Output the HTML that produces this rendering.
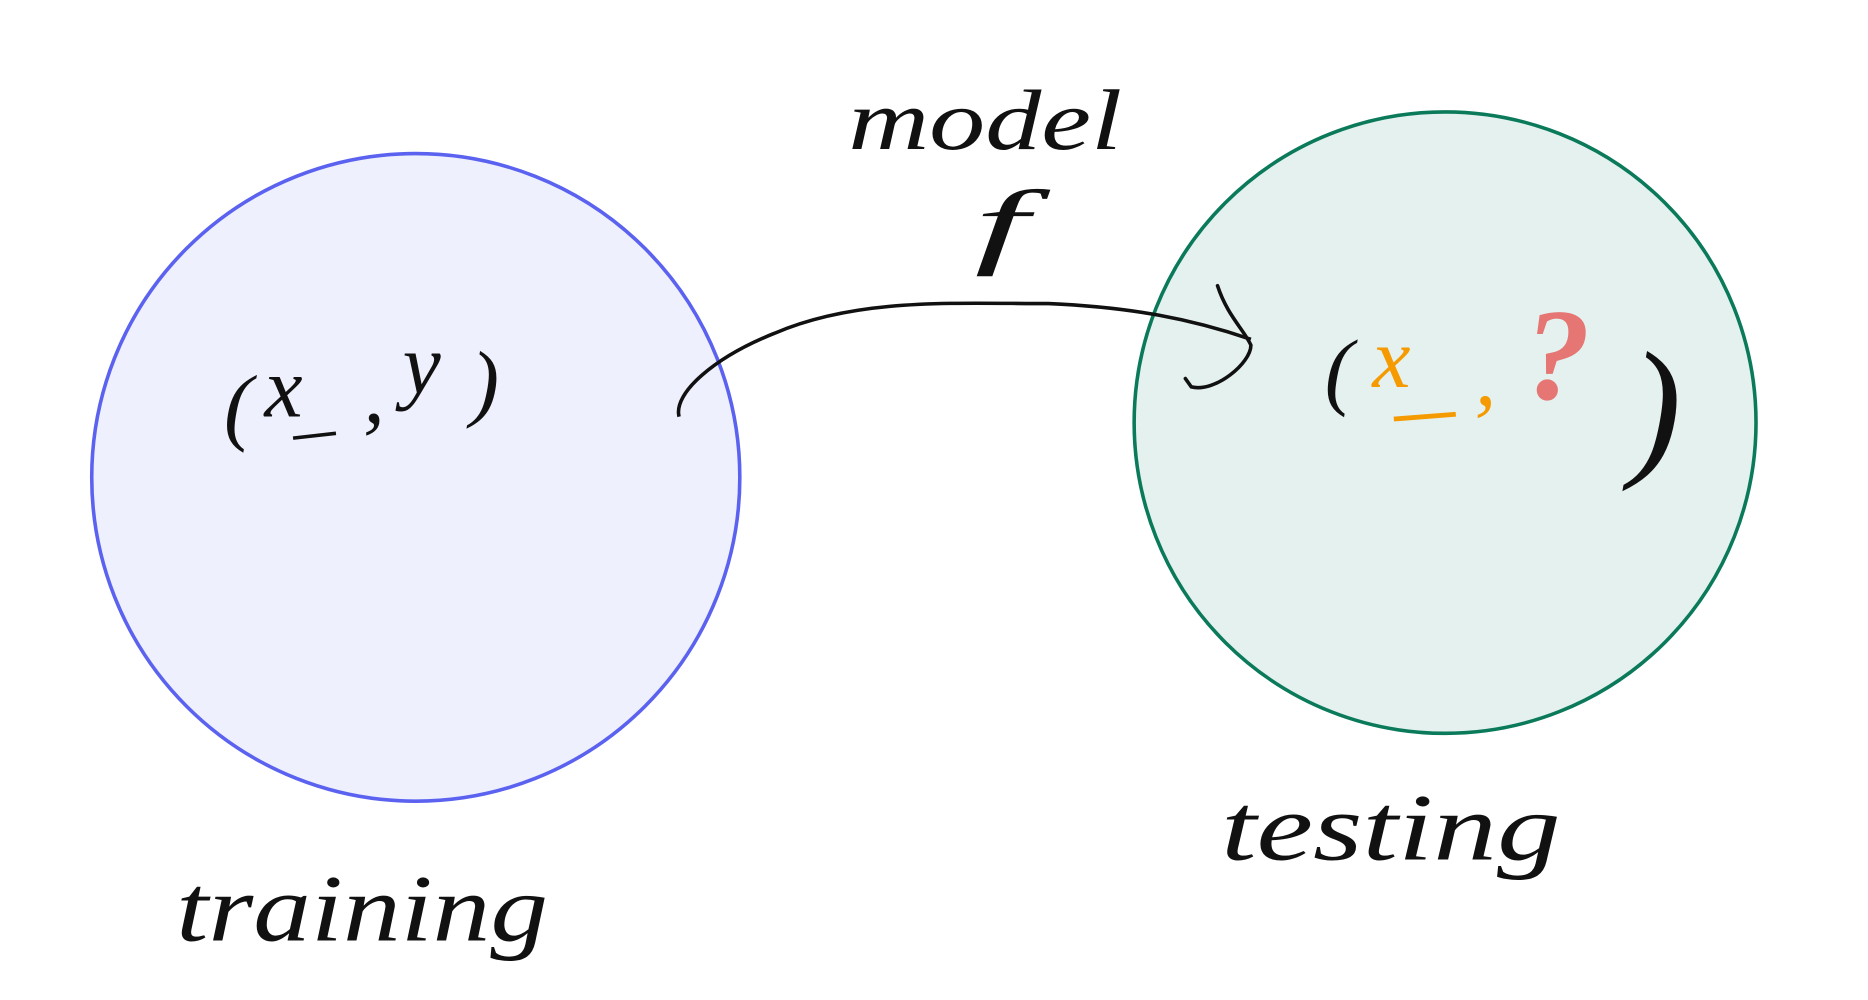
<!DOCTYPE html>
<html><head><meta charset="utf-8"><style>
html,body{margin:0;padding:0;background:#fff;}
svg{display:block;}
text{font-family:"Liberation Serif",serif;font-style:italic;}
</style></head><body>
<svg width="1868" height="1000" viewBox="0 0 1568 840" preserveAspectRatio="none" xmlns="http://www.w3.org/2000/svg">
<rect width="1568" height="840" fill="#fff"/>
<circle cx="349" cy="401" r="272" fill="#eef0fd" stroke="#5b62f0" stroke-width="3"/>
<circle cx="1213" cy="355" r="261" fill="#e4f1ee" stroke="#0b7a5a" stroke-width="3"/>
<path d="M570 350 C 565 330, 600 300, 650 280 C 720 250, 800 255, 880 255 C 950 258, 1000 268, 1050 285" fill="none" stroke="#111" stroke-width="3"/>
<path d="M1022 240 C 1030 265, 1045 278, 1050 290 C 1050 305, 1020 330, 1000 325 L 995 318" fill="none" stroke="#111" stroke-width="3" stroke-linecap="round"/>
<text x="188" y="365" font-size="72" fill="#111">(</text>
<text x="222" y="350" font-size="72" fill="#111">x</text>
<line x1="246" y1="368" x2="282" y2="364" stroke="#111" stroke-width="3"/>
<text x="305" y="355" font-size="72" fill="#111">,</text>
<text x="338" y="330" font-size="72" fill="#111">y</text>
<text x="395" y="345" font-size="72" fill="#111">)</text>
<text x="712" y="125" font-size="72" fill="#111" textLength="230" lengthAdjust="spacingAndGlyphs">model</text>
<text x="818" y="215" font-size="80" fill="#111" textLength="45" lengthAdjust="spacingAndGlyphs">f</text>
<text x="1112" y="335" font-size="72" fill="#111">(</text>
<text x="1152" y="325" font-size="72" fill="#f59a00">x</text>
<line x1="1170" y1="352" x2="1222" y2="348" stroke="#f59a00" stroke-width="4"/>
<text x="1238" y="340" font-size="72" fill="#f59a00">,</text>
<text x="1280" y="335" font-size="110" font-weight="bold" font-style="normal" fill="#e57673">?</text>
<text x="1368" y="385" font-size="130" fill="#111">)</text>
<text x="148" y="790" font-size="80" fill="#111" textLength="312" lengthAdjust="spacingAndGlyphs">training</text>
<text x="1025" y="722" font-size="80" fill="#111" textLength="285" lengthAdjust="spacingAndGlyphs">testing</text>
</svg>
</body></html>
